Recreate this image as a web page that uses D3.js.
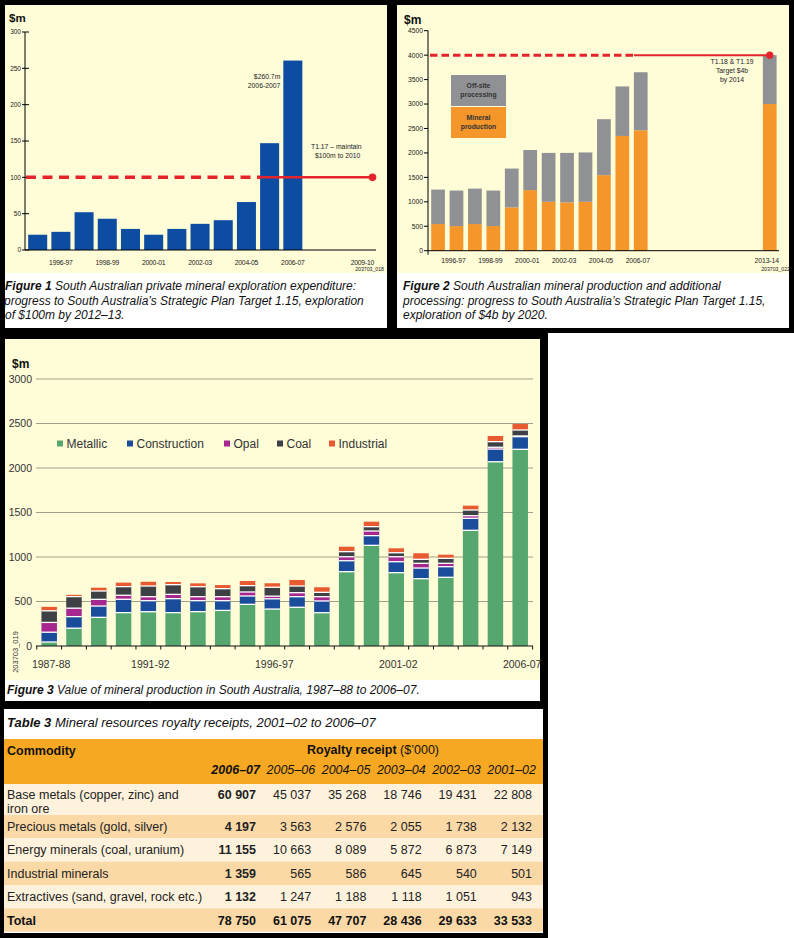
<!DOCTYPE html>
<html><head><meta charset="utf-8">
<script src="https://cdn.jsdelivr.net/npm/d3@7"></script>
<style>
html,body{margin:0;padding:0;background:#fff;}
svg{display:block;font-family:"Liberation Sans",Arial,Helvetica,sans-serif;}
</style></head><body>
<svg id="c" width="794" height="938"></svg>
<script>
// ---------------- DATA ----------------
const fig1Years = ["1995-96","1996-97","1997-98","1998-99","1999-00","2000-01","2001-02","2002-03","2003-04","2004-05","2005-06","2006-07","2007-08","2008-09","2009-10"];
const fig1BarYears = ["1995-96","1996-97","1997-98","1998-99","1999-00","2000-01","2001-02","2002-03","2003-04","2004-05","2005-06","2006-07"];
const fig1Values = [21,25,52,43,29,21,29,36,41,66,147,260.7];
const fig1TickLabels = ["1996-97","1998-99","2000-01","2002-03","2004-05","2006-07","2009-10"];
const fig1YTicks = [0,50,100,150,200,250,300];
const fig1Target = 100;

const fig2Years = ["1995-96","1996-97","1997-98","1998-99","1999-00","2000-01","2001-02","2002-03","2003-04","2004-05","2005-06","2006-07","2007-08","2008-09","2009-10","2010-11","2011-12","2012-13","2013-14"];
const fig2BarYears = ["1995-96","1996-97","1997-98","1998-99","1999-00","2000-01","2001-02","2002-03","2003-04","2004-05","2005-06","2006-07","2013-14"];
const fig2Production = [545,504,545,504,885,1239,1000,988,1000,1545,2347,2463,3000];
const fig2Offsite = [705,726,725,726,795,821,1000,1012,1010,1145,1013,1187,1000];
const fig2TickLabels = ["1996-97","1998-99","2000-01","2002-03","2004-05","2006-07","2013-14"];
const fig2YTicks = [0,500,1000,1500,2000,2500,3000,3500,4000,4500];
const fig2Target = 4000;

const fig3Years = ["1987-88","1988-89","1989-90","1990-91","1991-92","1992-93","1993-94","1994-95","1995-96","1996-97","1997-98","1998-99","1999-00","2000-01","2001-02","2002-03","2003-04","2004-05","2005-06","2006-07"];
const fig3Metallic     = [45,200,322,375,385,375,386,400,468,415,435,374,835,1131,824,756,772,1300,2070,2210];
const fig3Construction = [110,130,127,150,124,157,123,109,94,115,119,132,123,109,123,120,119,135,143,142];
const fig3Opal         = [110,95,75,45,45,48,45,45,45,30,45,48,45,52,56,53,38,29,20,8];
const fig3Coal         = [130,130,94,97,120,109,112,90,71,100,75,49,57,49,45,45,56,64,63,67];
const fig3Industrial   = [45,20,37,45,48,30,38,41,52,45,68,57,56,56,50,68,41,49,64,67];
const fig3Series = ["Metallic","Construction","Opal","Coal","Industrial"];
const fig3TickLabels = ["1987-88","1991-92","1996-97","2001-02","2006-07"];
const fig3YTicks = [0,500,1000,1500,2000,2500,3000];

const tableYears = ["2006–07","2005–06","2004–05","2003–04","2002–03","2001–02"];
const tableCommodities = [["Base metals (copper, zinc) and","iron ore"],["Precious metals (gold, silver)"],["Energy minerals (coal, uranium)"],["Industrial minerals"],["Extractives (sand, gravel, rock etc.)"]];
const tableValues = [
  [60907,45037,35268,18746,19431,22808],
  [4197,3563,2576,2055,1738,2132],
  [11155,10663,8089,5872,6873,7149],
  [1359,565,586,645,540,501],
  [1132,1247,1188,1118,1051,943]
];
const tableTotals = [78750,61075,47707,28436,29633,33533];

// ---------------- STYLE ----------------
const CREAM = "#fffcd8";
const RED = "#e4232a";
const svg = d3.select("#c");

function rect(x,y,w,h,fill){ svg.append("rect").attr("x",x).attr("y",y).attr("width",w).attr("height",h).attr("fill",fill); }
function text(g,x,y,str,opts={}){
  const t = g.append("text").attr("x",x).attr("y",y).text(str)
    .attr("font-size",opts.size||12).attr("fill",opts.fill||"#111");
  if(opts.anchor) t.attr("text-anchor",opts.anchor);
  if(opts.weight) t.attr("font-weight",opts.weight);
  if(opts.style) t.attr("font-style",opts.style);
  if(opts.ls) t.attr("letter-spacing",opts.ls);
  return t;
}
function richLine(g,x,y,parts,size){
  const t = g.append("text").attr("x",x).attr("y",y).attr("font-size",size).attr("fill","#111");
  parts.forEach(p=>{ const s=t.append("tspan").text(p.t); if(p.b) s.attr("font-weight","bold"); if(p.i) s.attr("font-style","italic"); });
  return t;
}

// panels
rect(0,0,794,333,"#000");
rect(0,333,548,605,"#000");
rect(5,5,382,268,CREAM); rect(5,273,382,55,"#fff");
rect(397,5,392,268,CREAM); rect(397,273,392,55,"#fff");
rect(5,339,535,341,CREAM); rect(5,680,535,21,"#fff");
rect(4,709,539,224,"#fff");

// ---------------- FIGURE 1 ----------------
{
  const g = svg.append("g");
  const x = d3.scaleBand().domain(fig1Years).range([26.1,374]).paddingInner(0.18).paddingOuter(0.09);
  const y = d3.scaleLinear().domain([0,300]).range([250,32]);
  text(g,9,22,"$m",{size:11.5,weight:"bold"});
  g.selectAll(".b").data(fig1BarYears).join("rect")
    .attr("x",d=>x(d)).attr("width",x.bandwidth())
    .attr("y",(d,i)=>y(fig1Values[i])).attr("height",(d,i)=>y(0)-y(fig1Values[i]))
    .attr("fill","#0c4da2");
  // axes
  g.append("line").attr("x1",25).attr("x2",25).attr("y1",y(300)).attr("y2",y(0)).attr("stroke","#000");
  g.append("line").attr("x1",25).attr("x2",376).attr("y1",y(0)).attr("y2",y(0)).attr("stroke","#000");
  fig1YTicks.forEach(v=>{
    g.append("line").attr("x1",22).attr("x2",29).attr("y1",y(v)).attr("y2",y(v)).attr("stroke","#000");
    text(g,21,y(v)+2.3,v,{size:6.5,anchor:"end",fill:"#222"});
  });
  fig1TickLabels.forEach(l=>text(g,x(l)+x.bandwidth()/2,265,l,{size:6.8,anchor:"middle",fill:"#222",ls:-0.2}));
  text(g,384,270.5,"203703_018",{size:5.2,anchor:"end",fill:"#222"});
  // target
  const xs = x("2005-06");
  g.append("line").attr("x1",26).attr("x2",xs).attr("y1",y(fig1Target)).attr("y2",y(fig1Target))
    .attr("stroke",RED).attr("stroke-width",3.5).attr("stroke-dasharray","10,6.5");
  const xe = x.range()[1]-1.5;
  g.append("line").attr("x1",xs).attr("x2",xe).attr("y1",y(fig1Target)).attr("y2",y(fig1Target))
    .attr("stroke",RED).attr("stroke-width",2.5);
  g.append("circle").attr("cx",xe).attr("cy",y(fig1Target)).attr("r",3.8).attr("fill",RED);
  text(g,x("2006-07")-3,y(fig1Values[11])+18.5,"$260.7m",{size:6.8,anchor:"end",fill:"#222"});
  text(g,x("2006-07")-3,y(fig1Values[11])+27,"2006-2007",{size:6.8,anchor:"end",fill:"#222"});
  text(g,311,149,"T1.17 – maintain",{size:6.8,fill:"#222"});
  text(g,315,158,"$100m to 2010",{size:6.8,fill:"#222"});
  richLine(g,5,290,[{t:"Figure 1",b:1,i:1},{t:" South Australian private mineral exploration expenditure:",i:1}],12);
  richLine(g,4,305,[{t:"progress to South Australia’s Strategic Plan Target 1.15, exploration",i:1}],12);
  richLine(g,5,319,[{t:"of $100m by 2012–13.",i:1}],12);
}

// ---------------- FIGURE 2 ----------------
{
  const g = svg.append("g");
  const x = d3.scaleBand().domain(fig2Years).range([428.8,779]).paddingInner(0.255).paddingOuter(0.13);
  const y = d3.scaleLinear().domain([0,4500]).range([250.7,30.7]);
  text(g,404,24,"$m",{size:12,weight:"bold"});
  fig2BarYears.forEach((yr,i)=>{
    g.append("rect").attr("x",x(yr)).attr("width",x.bandwidth())
      .attr("y",y(fig2Production[i])).attr("height",y(0)-y(fig2Production[i])).attr("fill","#f5962a");
    g.append("rect").attr("x",x(yr)).attr("width",x.bandwidth())
      .attr("y",y(fig2Production[i]+fig2Offsite[i])).attr("height",y(fig2Production[i])-y(fig2Production[i]+fig2Offsite[i])).attr("fill","#909194");
  });
  g.append("line").attr("x1",428).attr("x2",428).attr("y1",y(4500)).attr("y2",y(0)+4).attr("stroke","#000");
  g.append("line").attr("x1",428).attr("x2",779).attr("y1",y(0)).attr("y2",y(0)).attr("stroke","#000");
  fig2YTicks.forEach(v=>{
    g.append("line").attr("x1",424).attr("x2",428).attr("y1",y(v)).attr("y2",y(v)).attr("stroke","#000");
    text(g,423,y(v)+2.4,v,{size:6.8,anchor:"end",fill:"#222"});
  });
  fig2TickLabels.forEach(l=>text(g,x(l)+x.bandwidth()/2-3,263,l,{size:6.8,anchor:"middle",fill:"#222",ls:-0.1}));
  text(g,790,270.5,"203703_022",{size:5.2,anchor:"end",fill:"#222"});
  // legend
  g.append("rect").attr("x",451).attr("y",75).attr("width",55).attr("height",31).attr("fill","#909194");
  g.append("rect").attr("x",451).attr("y",107).attr("width",55).attr("height",31).attr("fill","#f5962a");
  text(g,478.5,88,"Off-site",{size:6.8,anchor:"middle",weight:"bold",fill:"#333"});
  text(g,478.5,96.5,"processing",{size:6.8,anchor:"middle",weight:"bold",fill:"#333"});
  text(g,478.5,120,"Mineral",{size:6.8,anchor:"middle",weight:"bold",fill:"#333"});
  text(g,478.5,128.5,"production",{size:6.8,anchor:"middle",weight:"bold",fill:"#333"});
  // target
  const xs = x("2006-07");
  g.append("line").attr("x1",430).attr("x2",xs).attr("y1",y(fig2Target)).attr("y2",y(fig2Target))
    .attr("stroke",RED).attr("stroke-width",3).attr("stroke-dasharray","7.5,4");
  const xe = x("2013-14")+x.bandwidth()/2;
  g.append("line").attr("x1",xs).attr("x2",xe).attr("y1",y(fig2Target)).attr("y2",y(fig2Target))
    .attr("stroke",RED).attr("stroke-width",2);
  g.append("circle").attr("cx",xe).attr("cy",y(fig2Target)).attr("r",3.6).attr("fill",RED);
  text(g,732,64,"T1.18 & T1.19",{size:6.8,anchor:"middle",fill:"#222"});
  text(g,732,73,"Target $4b",{size:6.8,anchor:"middle",fill:"#222"});
  text(g,732,82,"by 2014",{size:6.8,anchor:"middle",fill:"#222"});
  richLine(g,403,290,[{t:"Figure 2",b:1,i:1},{t:" South Australian mineral production and additional",i:1}],12);
  richLine(g,403,305,[{t:"processing: progress to South Australia’s Strategic Plan Target 1.15,",i:1}],12);
  richLine(g,403,319,[{t:"exploration of $4b by 2020.",i:1}],12);
}

// ---------------- FIGURE 3 ----------------
{
  const g = svg.append("g");
  const colors = {Metallic:"#55a66f",Construction:"#1a4c9c",Opal:"#a6278f",Coal:"#3d4045",Industrial:"#e85a30"};
  const rows = fig3Years.map((yr,i)=>({year:yr,Metallic:fig3Metallic[i],Construction:fig3Construction[i],Opal:fig3Opal[i],Coal:fig3Coal[i],Industrial:fig3Industrial[i]}));
  const stack = d3.stack().keys(fig3Series)(rows);
  const x = d3.scaleBand().domain(fig3Years).range([36.8,532.6]).paddingInner(0.375).paddingOuter(0.1875);
  const y = d3.scaleLinear().domain([0,3000]).range([646,379]);
  text(g,12,368,"$m",{size:12,weight:"bold"});
  fig3YTicks.forEach(v=>{
    if(v>0) g.append("line").attr("x1",36).attr("x2",533).attr("y1",y(v)).attr("y2",y(v)).attr("stroke","#a29e88").attr("stroke-width",1);
    text(g,32,y(v)+3.8,v,{size:10.5,anchor:"end",fill:"#333"});
  });
  stack.forEach(s=>{
    g.selectAll(null).data(s).join("rect")
      .attr("x",d=>x(d.data.year)).attr("width",x.bandwidth())
      .attr("y",d=>y(d[1])).attr("height",d=>y(d[0])-y(d[1]))
      .attr("fill",colors[s.key]);
  });
  // white separators
  stack.slice(0,4).forEach(s=>{
    g.selectAll(null).data(s).join("line")
      .attr("x1",d=>x(d.data.year)).attr("x2",d=>x(d.data.year)+x.bandwidth())
      .attr("y1",d=>y(d[1])).attr("y2",d=>y(d[1])).attr("stroke","#fff").attr("stroke-width",1.3);
  });
  g.append("line").attr("x1",36).attr("x2",533).attr("y1",y(0)).attr("y2",y(0)).attr("stroke","#111").attr("stroke-width",1.2);
  const bounds = fig3Years.map(yr=>x(yr)-x.step()*x.paddingInner()/2).concat([x.range()[1]]);
  g.selectAll(null).data(bounds).join("line").attr("x1",d=>d).attr("x2",d=>d).attr("y1",y(0)).attr("y2",y(0)+3.5).attr("stroke","#111");
  fig3TickLabels.forEach(l=>text(g,x(l)+x.bandwidth()/2+2,668,l,{size:10.5,anchor:"middle",fill:"#333"}));
  text(g,0,0,"203703_019",{size:7.5,anchor:"middle",fill:"#333"}).attr("transform","translate(17.5,652) rotate(-90)");
  // legend
  const legX = [57,127,224,277,329];
  fig3Series.forEach((k,i)=>{
    g.append("rect").attr("x",legX[i]).attr("y",440.5).attr("width",6).attr("height",6).attr("fill",colors[k]);
    text(g,legX[i]+9.5,447.5,k,{size:12,fill:"#333"});
  });
  richLine(g,7,694,[{t:"Figure 3",b:1,i:1},{t:" Value of mineral production in South Australia, 1987–88 to 2006–07.",i:1}],12);
}

// ---------------- TABLE ----------------
{
  const g = svg.append("g");
  const fmt = d3.formatLocale({decimal:".",thousands:" ",grouping:[3],currency:["$",""]}).format(",d");
  const colRight = i => 256 + i*55.2;
  richLine(g,7,727,[{t:"Table 3",b:1,i:1},{t:" Mineral resources royalty receipts, 2001–02 to 2006–07",i:1}],13);
  g.append("rect").attr("x",4).attr("y",739).attr("width",539).attr("height",45).attr("fill","#f7a823");
  text(g,7,755,"Commodity",{size:12.5,weight:"bold"});
  const rh = g.append("text").attr("x",373).attr("y",754).attr("text-anchor","middle").attr("font-size",12.5).attr("fill","#111");
  rh.append("tspan").attr("font-weight","bold").text("Royalty receipt");
  rh.append("tspan").text(" ($’000)");
  tableYears.forEach((yr,i)=>text(g,colRight(i)+4,774,yr,{size:12.5,anchor:"end",style:"italic",weight:i===0?"bold":null}));
  const rowTops = [784,815,838.3,861.6,885,908.3];
  const rowH = [31,23.3,23.3,23.4,23.3,23.4];
  const fills = ["#fef2dc","#fad9a7","#fef2dc","#fad9a7","#fef2dc","#fad9a7"];
  rowTops.forEach((t,i)=>g.append("rect").attr("x",4).attr("y",t).attr("width",539).attr("height",rowH[i]).attr("fill",fills[i]));
  tableCommodities.forEach((lines,r)=>{
    const base = r===0 ? 799 : rowTops[r]+rowH[r]/2+4.5;
    lines.forEach((ln,k)=>text(g,7,base+k*13.5,ln,{size:12.5,fill:"#222"}));
    tableValues[r].forEach((v,c)=>text(g,colRight(c),base,fmt(v),{size:12.5,anchor:"end",fill:"#222",weight:c===0?"bold":null}));
  });
  const tb = rowTops[5]+rowH[5]/2+4.5;
  text(g,7,tb,"Total",{size:12.5,weight:"bold",fill:"#111"});
  tableTotals.forEach((v,c)=>text(g,colRight(c),tb,fmt(v),{size:12.5,anchor:"end",weight:"bold",fill:"#111"}));
}
</script>
</body></html>
